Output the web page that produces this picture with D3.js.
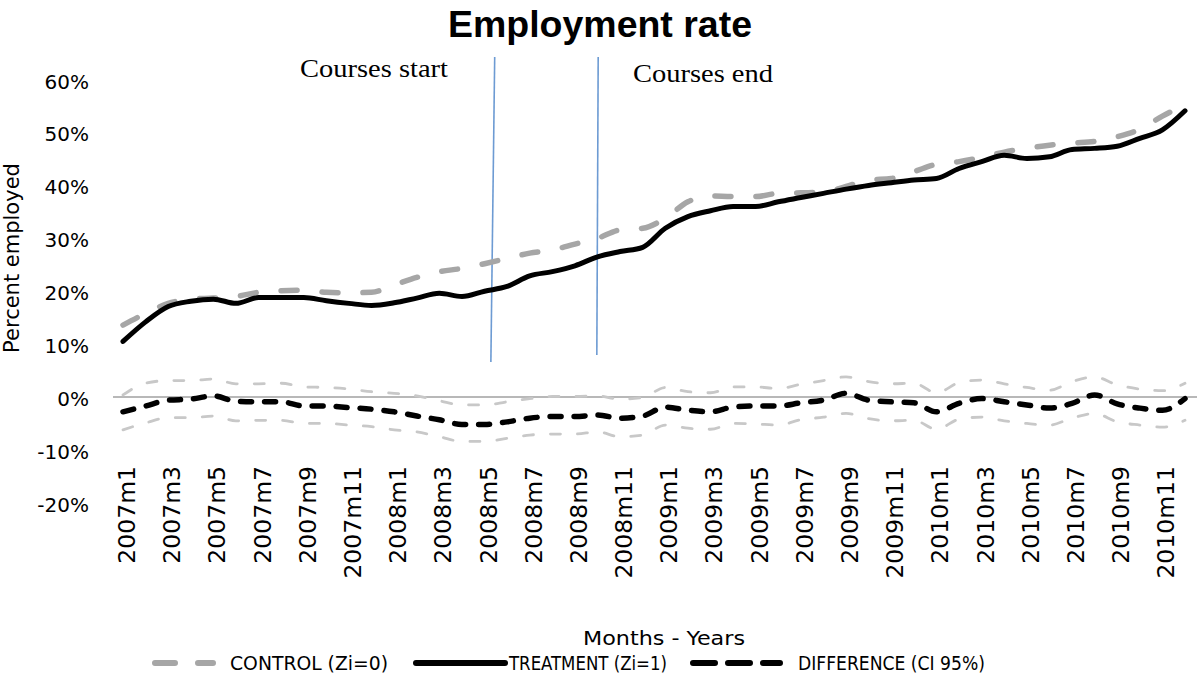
<!DOCTYPE html>
<html><head><meta charset="utf-8">
<script src="https://cdn.jsdelivr.net/npm/d3@7"></script>
<style>body{margin:0;background:#fff}svg{display:block}</style>
</head><body>
<svg id="c" width="1200" height="677"></svg>
<script>
const categories = ["2007m1","2007m2","2007m3","2007m4","2007m5","2007m6","2007m7","2007m8","2007m9","2007m10","2007m11","2007m12",
"2008m1","2008m2","2008m3","2008m4","2008m5","2008m6","2008m7","2008m8","2008m9","2008m10","2008m11","2008m12",
"2009m1","2009m2","2009m3","2009m4","2009m5","2009m6","2009m7","2009m8","2009m9","2009m10","2009m11","2009m12",
"2010m1","2010m2","2010m3","2010m4","2010m5","2010m6","2010m7","2010m8","2010m9","2010m10","2010m11","2010m12"];
const tickLabels = ["2007m1","2007m3","2007m5","2007m7","2007m9","2007m11","2008m1","2008m3","2008m5","2008m7","2008m9","2008m11",
"2009m1","2009m3","2009m5","2009m7","2009m9","2009m11","2010m1","2010m3","2010m5","2010m7","2010m9","2010m11"];
const yTicks = [-20,-10,0,10,20,30,40,50,60];
const control = [13.6,15.8,17.7,18.5,18.7,19.0,19.8,20.1,20.2,19.8,19.7,19.8,21.2,22.6,23.7,24.3,25.2,26.2,27.2,27.8,28.9,30.0,31.6,31.9,33.8,36.9,38.0,37.9,37.9,38.5,38.6,38.7,39.8,41.0,41.3,42.6,44.0,44.5,45.3,46.3,47.0,47.6,48.0,48.3,49.2,50.6,53.1,55.2];
const treatment = [10.5,14.2,17.1,18.1,18.5,17.7,18.8,18.8,18.8,18.2,17.7,17.3,17.8,18.7,19.6,19.0,20.0,20.9,22.9,23.7,24.8,26.5,27.5,28.3,31.9,34.1,35.2,36.0,36.0,36.9,37.7,38.5,39.3,40.0,40.5,41.0,41.3,43.2,44.5,45.7,45.1,45.4,46.8,47.0,47.4,48.9,50.5,54.1];
const difference = [-2.8,-1.7,-0.6,-0.4,0.2,-0.8,-0.9,-0.9,-1.7,-1.7,-2.0,-2.3,-2.8,-3.6,-4.3,-5.2,-5.2,-4.7,-4.0,-3.7,-3.7,-3.4,-4.0,-3.6,-1.9,-2.5,-2.8,-1.9,-1.7,-1.7,-1.1,-0.6,0.7,-0.6,-0.9,-1.1,-2.8,-1.2,-0.3,-0.9,-1.5,-2.1,-1.2,0.4,-1.3,-2.1,-2.5,-0.3];
const ciUpper = [0.4,2.6,3.1,3.1,3.4,2.5,2.5,2.6,1.9,1.8,1.5,1.0,0.7,0.2,-0.7,-1.5,-1.5,-0.9,-0.3,0.1,0.1,0.2,-0.4,-0.1,1.8,1.0,0.8,1.9,1.9,1.6,2.4,3.1,3.8,2.9,2.5,2.6,0.8,2.7,3.2,2.5,1.8,1.3,2.9,3.8,2.3,1.5,1.2,2.6];
const ciLower = [-6.2,-4.9,-3.9,-3.9,-3.6,-4.5,-4.4,-4.4,-5.0,-5.0,-5.3,-5.6,-6.2,-6.6,-7.5,-8.4,-8.4,-7.8,-7.2,-7.0,-7.0,-6.6,-7.5,-7.2,-5.3,-5.9,-6.1,-5.0,-5.1,-5.3,-4.3,-3.8,-3.1,-4.1,-4.5,-4.4,-6.1,-4.2,-3.8,-4.5,-5.0,-5.3,-4.0,-3.1,-4.7,-5.3,-5.7,-4.4];
const markers = [{label:"Courses start", top:16.45, bottom:16.28, yTop:57, yBottom:362},
                 {label:"Courses end", top:21.03, bottom:20.97, yTop:57, yBottom:355}];

const svg = d3.select("#c");
const x = d3.scalePoint().domain(categories).range([123, 1185]);
const xi = d3.scaleLinear().domain([0, categories.length-1]).range([123, 1185]);
const y = d3.scaleLinear().domain([-20, 60]).range([502.8, 79.6]);

// title
svg.append("text").attr("x", 600).attr("y", 37).attr("text-anchor","middle")
  .attr("font-family","'Liberation Sans', Arial, sans-serif").attr("font-weight","bold")
  .attr("font-size", 37).attr("textLength",304).attr("lengthAdjust","spacingAndGlyphs").text("Employment rate");

// y axis
const yAxis = svg.append("g").attr("transform","translate(92,0)")
  .call(d3.axisLeft(y).tickValues(yTicks).tickSize(0).tickPadding(3).tickFormat(d => d + "%"));
yAxis.select(".domain").remove();
yAxis.selectAll("text").attr("font-family","'DejaVu Sans', Verdana, sans-serif").attr("font-size",20).attr("fill","#000").attr("dy","0.42em");

svg.append("text").attr("transform","translate(19,258) rotate(-90)").attr("text-anchor","middle")
  .attr("font-family","'DejaVu Sans', Verdana, sans-serif").attr("font-size",21).text("Percent employed");

// x axis
const xAxis = svg.append("g").attr("transform","translate(3,466)")
  .call(d3.axisBottom(x).tickValues(tickLabels).tickSize(0).tickPadding(0));
xAxis.select(".domain").remove();
xAxis.selectAll("text").attr("font-family","'DejaVu Sans', Verdana, sans-serif").attr("font-size",23.5)
  .attr("fill","#000").attr("text-anchor","end").attr("transform","rotate(-90)").attr("dy","0.36em").attr("x",0).attr("y",0);

// zero line
svg.append("line").attr("x1",113).attr("x2",1197).attr("y1",y(0)).attr("y2",y(0))
  .attr("stroke","#a0a0a0").attr("stroke-width",1.6);

// course markers
svg.selectAll(".mk").data(markers).join("line").attr("class","mk")
  .attr("x1", d => xi(d.top)).attr("x2", d => xi(d.bottom)).attr("y1", d => d.yTop).attr("y2", d => d.yBottom)
  .attr("stroke","#6d9bd3").attr("stroke-width",1.6);
svg.append("text").attr("x",300).attr("y",77).attr("font-family","'Liberation Serif','Times New Roman',serif")
  .attr("font-size",26).attr("textLength",148).attr("lengthAdjust","spacingAndGlyphs").text(markers[0].label);
svg.append("text").attr("x",633).attr("y",82).attr("font-family","'Liberation Serif','Times New Roman',serif")
  .attr("font-size",26).attr("textLength",140).attr("lengthAdjust","spacingAndGlyphs").text(markers[1].label);

const line = d3.line().x((d,i) => x(categories[i])).y(d => y(d)).curve(d3.curveMonotoneX);
const series = [
  {data: ciUpper, stroke:"#c8c8c8", w:2.8, dash:"10,17", cap:"round"},
  {data: ciLower, stroke:"#c8c8c8", w:2.8, dash:"10,17", cap:"round"},
  {data: difference, stroke:"#000", w:5.5, dash:"11,13", cap:"round"},
  {data: control, stroke:"#a6a6a6", w:5.5, dash:"16,25", cap:"round"},
  {data: treatment, stroke:"#000", w:5, dash:null, cap:"round"}
];
svg.selectAll(".s").data(series).join("path").attr("class","s")
  .attr("d", d => line(d.data)).attr("fill","none").attr("stroke", d => d.stroke)
  .attr("stroke-width", d => d.w).attr("stroke-dasharray", d => d.dash).attr("stroke-linecap", d => d.cap)
  .attr("stroke-linejoin","round");

// axis title
const narrow = "'Liberation Sans Narrow','Arial Narrow','DejaVu Sans Condensed',sans-serif";
svg.append("text").attr("x",664).attr("y",645).attr("text-anchor","middle").attr("font-family",narrow)
  .attr("font-size",20).attr("textLength",162).attr("lengthAdjust","spacingAndGlyphs").text("Months - Years");

// legend
const legend = [
  {label:"CONTROL (Zi=0)", x1:152, x2:216, tx:230, tl:158, stroke:"#a6a6a6", w:6, dash:"20,23"},
  {label:"TREATMENT (Zi=1)", x1:413, x2:508, tx:509, tl:158, stroke:"#000", w:6, dash:null},
  {label:"DIFFERENCE (CI 95%)", x1:690, x2:783, tx:798, tl:187, stroke:"#000", w:6, dash:"22,13"}
];
const lg = svg.append("g");
lg.selectAll("line").data(legend).join("line").attr("x1", d => d.x1 + 3).attr("x2", d => d.x2 - 3)
  .attr("y1",663).attr("y2",663).attr("stroke", d => d.stroke).attr("stroke-width", d => d.w)
  .attr("stroke-dasharray", d => d.dash).attr("stroke-linecap","round");
lg.selectAll("text").data(legend).join("text").attr("x", d => d.tx).attr("y",670)
  .attr("font-family",narrow).attr("font-size",20).attr("textLength", d => d.tl).attr("lengthAdjust","spacingAndGlyphs")
  .text(d => d.label);
</script>
</body></html>
